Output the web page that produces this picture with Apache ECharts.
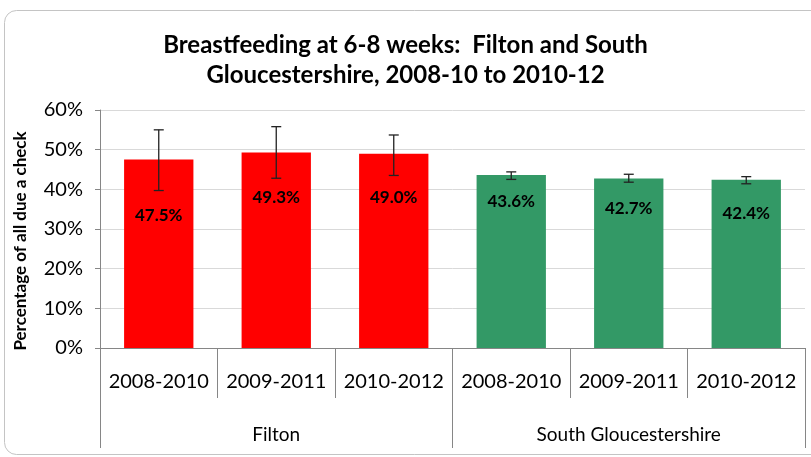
<!DOCTYPE html>
<html>
<head>
<meta charset="utf-8">
<script src="https://cdn.jsdelivr.net/npm/echarts@6/dist/echarts.min.js"></script>
<style>
  html, body { margin: 0; padding: 0; background: #fff; }
  #chart { width: 811px; height: 457px; }
</style>
</head>
<body>
<div id="chart"></div>
<script>
// 母乳喂养 6-8 周数据
var periods = ['2008-2010', '2009-2011', '2010-2012', '2008-2010', '2009-2011', '2010-2012'];
var areas = ['Filton', 'South Gloucestershire'];
var values = [47.5, 49.3, 49.0, 43.6, 42.7, 42.4];
var ciLow = [39.7, 42.8, 43.5, 42.5, 41.8, 41.4];
var ciHigh = [55.0, 55.8, 53.7, 44.4, 43.8, 43.2];
var yTicks = [0, 10, 20, 30, 40, 50, 60];

// label offset from bar top (style only)
var labelDrop = [56, 45, 44, 26, 30, 34];

var chart = echarts.init(document.getElementById('chart'));
var font = 'Lato, "Open Sans", sans-serif';

var barData = values.map(function (v, i) {
    return {
        value: v,
        itemStyle: { color: i < 3 ? '#FF0000' : '#339966' },
        label: { position: ['50%', labelDrop[i]] }
    };
});
var errData = values.map(function (v, i) {
    return [i, ciLow[i], ciHigh[i]];
});

var option = {
    animation: false,
    backgroundColor: '#fff',
    title: {
        text: 'Breastfeeding at 6-8 weeks:  Filton and South\nGloucestershire, 2008-10 to 2010-12',
        left: 'center',
        top: 25,
        textStyle: { fontFamily: font, fontSize: 24, fontWeight: 'bold', color: '#000', lineHeight: 30 }
    },
    graphic: [{
        type: 'rect',
        shape: { x: 4.5, y: 10.5, width: 830, height: 444, r: 12 },
        style: { fill: 'none', stroke: '#c4c4c4', lineWidth: 1 },
        silent: true,
        z: -1
    }],
    grid: { left: 100, right: 6, top: 110, bottom: 109 },
    xAxis: [{
        type: 'category',
        data: periods,
        axisLine: { lineStyle: { color: '#868686', width: 1 } },
        axisTick: { show: true, interval: 0, length: 50, lineStyle: { color: '#868686' } },
        axisLabel: { interval: 0, margin: 24, fontFamily: font, fontSize: 20, color: '#000' }
    }, {
        type: 'category',
        data: areas,
        position: 'bottom',
        offset: 0,
        axisLine: { show: false },
        axisTick: { show: true, interval: 0, length: 100, lineStyle: { color: '#868686' } },
        axisLabel: { interval: 0, margin: 77, fontFamily: font, fontSize: 19, color: '#000' }
    }],
    yAxis: {
        type: 'value',
        min: yTicks[0],
        max: yTicks[yTicks.length - 1],
        interval: 10,
        name: 'Percentage of all due a check',
        nameLocation: 'middle',
        nameRotate: 90,
        nameGap: 71,
        nameTextStyle: { fontFamily: font, fontSize: 17, fontWeight: 'bold', color: '#000', padding: [0, 24, 0, 0] },
        axisLine: { show: true, lineStyle: { color: '#868686' } },
        axisTick: { show: true, length: 5, lineStyle: { color: '#868686' } },
        axisLabel: { margin: 17, fontFamily: font, fontSize: 20, color: '#000', formatter: '{value}%' },
        splitLine: { lineStyle: { color: '#d9d9d9' } }
    },
    series: [{
        type: 'bar',
        xAxisIndex: 0,
        barWidth: '59%',
        data: barData,
        label: {
            show: true,
            align: 'center',
            verticalAlign: 'middle',
            fontFamily: font,
            fontSize: 17,
            fontWeight: 'bold',
            color: '#000',
            formatter: function (p) { return p.value.toFixed(1) + '%'; }
        }
    }, {
        type: 'custom',
        xAxisIndex: 0,
        data: errData,
        encode: { x: 0, y: [1, 2] },
        z: 10,
        renderItem: function (params, api) {
            var lo = api.coord([api.value(0), api.value(1)]);
            var hi = api.coord([api.value(0), api.value(2)]);
            var w = 5;
            var st = { stroke: '#222', lineWidth: 1.3 };
            return {
                type: 'group',
                children: [
                    { type: 'line', shape: { x1: hi[0], y1: hi[1], x2: lo[0], y2: lo[1] }, style: st },
                    { type: 'line', shape: { x1: hi[0] - w, y1: hi[1], x2: hi[0] + w, y2: hi[1] }, style: st },
                    { type: 'line', shape: { x1: lo[0] - w, y1: lo[1], x2: lo[0] + w, y2: lo[1] }, style: st }
                ]
            };
        }
    }]
};

chart.setOption(option);
</script>
</body>
</html>
